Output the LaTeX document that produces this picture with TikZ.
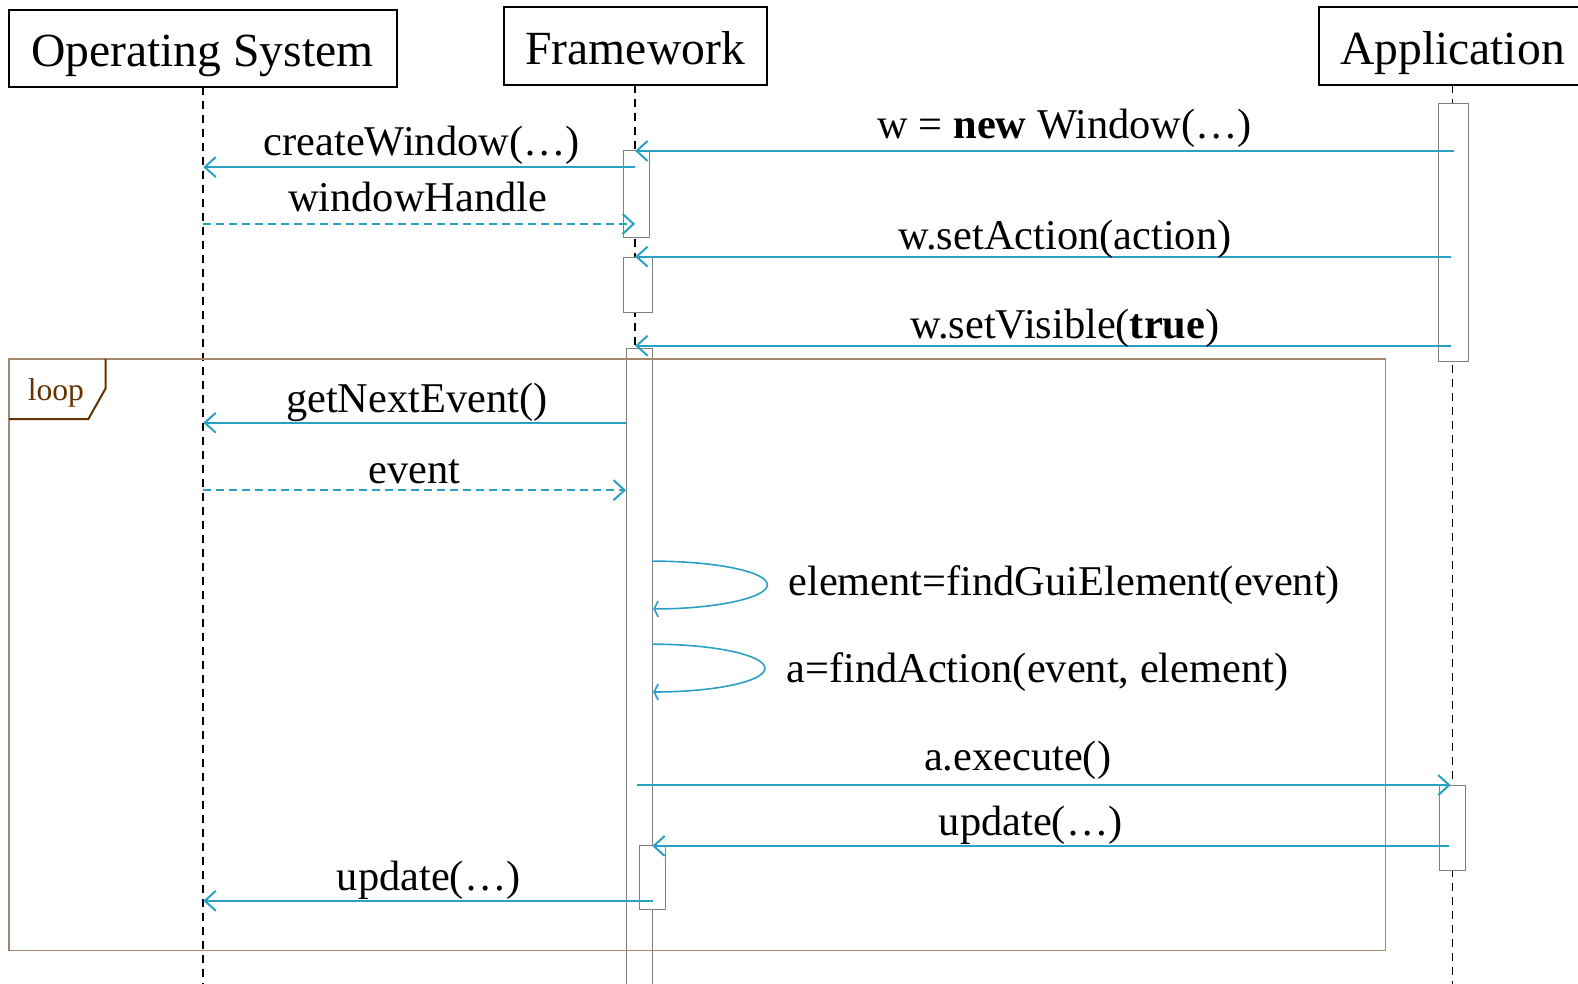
\documentclass[tikz,border=0pt]{standalone}
\usepackage{fontspec}
\setmainfont{Liberation Serif}
\usetikzlibrary{arrows.meta}
\definecolor{msg}{RGB}{42,160,196}
\definecolor{framebrown}{RGB}{165,135,110}
\definecolor{tabbrown}{RGB}{102,51,0}
\begin{document}
\begin{tikzpicture}[x=0.50325pt,y=-0.50325pt,
  hdrbox/.style={draw=black,line width=1pt},
  hdrtext/.style={font=\fontsize{23.8}{28}\selectfont,anchor=base,inner sep=0pt},
  lbl/.style={font=\fontsize{21.2}{25}\selectfont,anchor=base,inner sep=0pt},
  lifeline/.style={draw=black,line width=0.9pt,dash pattern=on 4pt off 3pt},
  actbox/.style={draw=gray,fill=white,line width=0.5pt},
  msgcall/.style={draw=msg,line width=1pt,-{Straight Barb[length=5.5pt,width=10pt]}},
  msgret/.style={msgcall,dash pattern=on 4pt off 2.5pt},
  selfcall/.style={draw=msg,line width=0.8pt,-{Straight Barb[length=2pt,width=8pt]}},
  loopframe/.style={draw=framebrown,line width=0.7pt},
  looptab/.style={draw=tabbrown,line width=1pt},
  looptext/.style={font=\fontsize{15.8}{19}\selectfont,text=tabbrown,anchor=base,inner sep=0pt}]
\useasboundingbox (0,0) rectangle (1567.8,977.6);

% header boxes
\path[hdrbox] (9,10) rectangle (394,86);
\path[hdrbox] (501,7) rectangle (762,84);
\path[hdrbox] (1310,7) rectangle (1640,84);
\node[hdrtext] (os) at (201,66) {Operating System};
\node[hdrtext] (fw) at (631,64) {Framework};
\node[hdrtext] (app) at (1443,64) {Application};

% lifelines
\coordinate (osT) at (202,86);   \coordinate (osB) at (202,977.6);
\coordinate (fwT) at (631,84);   \coordinate (fwB) at (631,977.6);
\coordinate (apT) at (1443,84);  \coordinate (apB) at (1443,977.6);
\draw[lifeline] (osT) -- (osB);
\draw[lifeline] (fwT) -- (fwB);
\draw[lifeline] (apT) -- (apB);

% activation boxes
\path[actbox] (619,150) rectangle (645,236);
\path[actbox] (619,256) rectangle (648,310);
\path[actbox] (622,346) rectangle (648,990);
\path[actbox] (635,840.5) rectangle (661.4,904);
\path[actbox] (1429,102.7) rectangle (1458.9,359.3);
\path[actbox] (1429.7,780) rectangle (1455.9,865);

% loop frame
\path[loopframe] (9,356.7) rectangle (1376.4,944.6);
\draw[looptab] (105,356.7) -- (105,385.8) -- (87.8,416.3) -- (9,416.3);
\node[looptext] (looplbl) at (55.5,398.4) {loop};

% message end points
\coordinate (m1s) at (1444.3,150);  \coordinate (m1e) at (631,150);
\coordinate (m2s) at (631,166);     \coordinate (m2e) at (202,166);
\coordinate (m3s) at (202,222.5);   \coordinate (m3e) at (631,222.5);
\coordinate (m4s) at (1441.7,255);  \coordinate (m4e) at (631,255);
\coordinate (m5s) at (1441.7,343.5);\coordinate (m5e) at (631,343.5);
\coordinate (m6s) at (622,420);     \coordinate (m6e) at (202,420);
\coordinate (m7s) at (202,487);     \coordinate (m7e) at (622,487);
\coordinate (s1s) at (648,557.5);   \coordinate (s1m) at (762.4,581);  \coordinate (s1e) at (649,605);
\coordinate (s2s) at (648,640);     \coordinate (s2m) at (760,664);    \coordinate (s2e) at (649,687.5);
\coordinate (m8s) at (633,780);     \coordinate (m8e) at (1441.3,780);
\coordinate (m9s) at (1439.6,840.5);\coordinate (m9e) at (648,840.5);
\coordinate (m10s) at (648.5,895);  \coordinate (m10e) at (202,895);

% messages
\draw[msgcall] (m1s) -- (m1e);
\draw[msgcall] (m2s) -- (m2e);
\draw[msgret]  (m3s) -- (m3e);
\draw[msgcall] (m4s) -- (m4e);
\draw[msgcall] (m5s) -- (m5e);
\draw[msgcall] (m6s) -- (m6e);
\draw[msgret]  (m7s) -- (m7e);
\draw[selfcall] (s1s) .. controls (711,557.5) and (762.4,568) .. (s1m)
                      .. controls (762.4,594) and (711,605) .. (s1e);
\draw[selfcall] (s2s) .. controls (710,640) and (760,651) .. (s2m)
                      .. controls (760,677) and (710,687.5) .. (s2e);
\draw[msgcall] (m8s) -- (m8e);
\draw[msgcall] (m9s) -- (m9e);
\draw[msgcall] (m10s) -- (m10e);

% labels
\node[lbl] (l1) at (1058,138) {w = \textbf{new} Window(…)};
\node[lbl] (l2) at (419,154.5) {createWindow(…)};
\node[lbl] (l3) at (415,210) {windowHandle};
\node[lbl] (l4) at (1058,248) {w.setAction(action)};
\node[lbl] (l5) at (1058,336) {w.setVisible(\textbf{true})};
\node[lbl] (l6) at (414,410) {getNextEvent()};
\node[lbl] (l7) at (412,480) {event};
\node[lbl,anchor=base west] (l8) at (783,592) {element=findGuiElement(event)};
\node[lbl,anchor=base west] (l9) at (781,678) {a=findAction(event, element)};
\node[lbl] (l10) at (1011,766) {a.execute()};
\node[lbl] (l11) at (1024,830) {update(…)};
\node[lbl] (l12) at (426,885) {update(…)};
\end{tikzpicture}
\end{document}
